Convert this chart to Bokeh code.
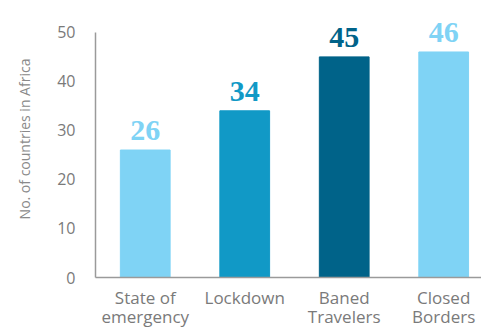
import numpy as np
from bokeh.plotting import figure
from bokeh.models import ColumnDataSource, FixedTicker, Range1d
from bokeh.core.properties import value
from bokeh.embed import file_html
from bokeh.resources import INLINE

categories = ["State of\nemergency", "Lockdown", "Baned\nTravelers", "Closed\nBorders"]
counts = [26, 34, 45, 46]
colors = ["#7fd3f5", "#1199c6", "#006389", "#7fd3f5"]
y_ticks = [0, 10, 20, 30, 40, 50]

xs = list(np.arange(len(categories)) + 0.5)
source = ColumnDataSource(data=dict(x=xs, y=counts, color=colors,
                                    label=[str(c) for c in counts]))

p = figure(width=481, height=331, output_backend="svg", toolbar_location=None,
           x_range=Range1d(0, 3.88), y_range=Range1d(0, 56.5),
           min_border_left=95, min_border_right=0, min_border_top=0,
           min_border_bottom=54)
p.outline_line_color = None
p.grid.grid_line_color = None
p.background_fill_color = "white"

p.vbar(x="x", top="y", width=0.5, color="color", source=source)
p.text(x="x", y="y", text="label", source=source, text_color="color",
       text_align="center", text_baseline="bottom", y_offset=-10,
       text_font=value("Liberation Serif"), text_font_style="bold",
       text_font_size="30px")

grey = "#7a7a7a"
font = "Open Sans"

p.xaxis.ticker = FixedTicker(ticks=xs)
p.xaxis.major_label_overrides = {x: c for x, c in zip(xs, categories)}
p.yaxis.ticker = FixedTicker(ticks=y_ticks)
p.yaxis.bounds = (0, 50)

for ax in (p.xaxis, p.yaxis):
    ax.axis_line_color = "#9a9a9a"
    ax.axis_line_width = 1.5
    ax.major_tick_line_color = None
    ax.minor_tick_line_color = None
    ax.major_label_text_color = grey
    ax.major_label_text_font = font

p.yaxis.major_label_text_font_size = "16px"
p.xaxis.major_label_text_font_size = "17px"
p.xaxis.major_label_text_line_height = 0.85
p.yaxis.major_label_standoff = 14
p.xaxis.major_label_standoff = 2
p.yaxis.axis_label = "No. of countries in Africa"
p.yaxis.axis_label_text_font = font
p.yaxis.axis_label_text_font_style = "normal"
p.yaxis.axis_label_text_font_size = "14px"
p.yaxis.axis_label_text_color = "#8a8a8a"
p.yaxis.axis_label_standoff = 20

open("out.html", "w").write(file_html(p, INLINE))
